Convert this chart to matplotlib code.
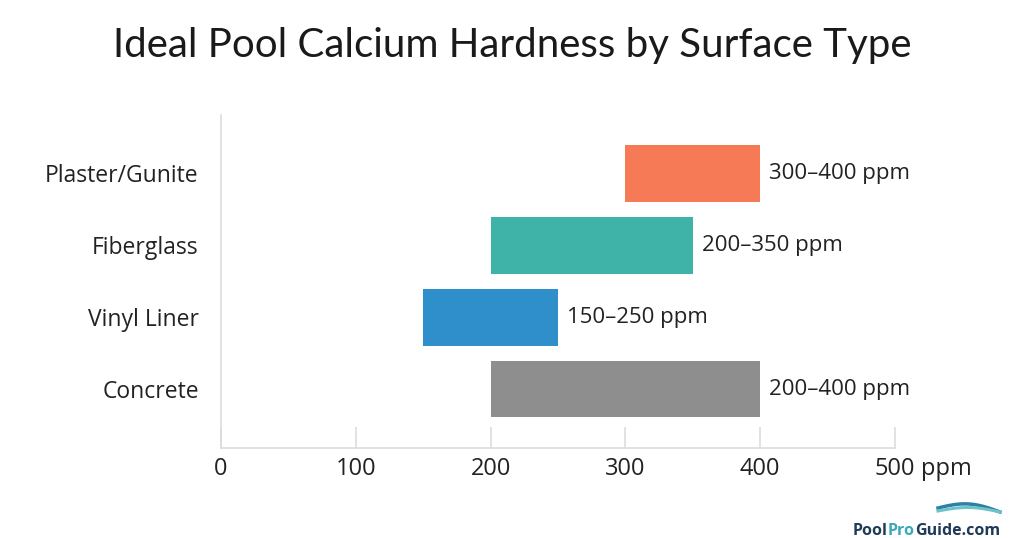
import matplotlib
matplotlib.use("Agg")
import matplotlib.pyplot as plt
import numpy as np

categories = ["Concrete", "Vinyl Liner", "Fiberglass", "Plaster/Gunite"]
low_values = [200, 150, 200, 300]
high_values = [400, 250, 350, 400]
bar_colors = ["#8E8E8E", "#2F8FCB", "#40B3A8", "#F77A57"]
range_labels = ["200\u2013400 ppm", "150\u2013250 ppm", "200\u2013350 ppm", "300\u2013400 ppm"]
tick_values = [0, 100, 200, 300, 400, 500]
tick_labels = ["0", "100", "200", "300", "400", "500"]

W, H = 1024, 538
fig = plt.figure(figsize=(W / 100, H / 100), dpi=100)
fig.patch.set_facecolor("white")

ax_left, ax_right = 221 / W, 895 / W
ax_bottom, ax_top = 1 - 448 / H, 1 - 115 / H
ax = fig.add_axes([ax_left, ax_bottom, ax_right - ax_left, ax_top - ax_bottom])
ax.set_xlim(0, 500)
ax.set_ylim(-0.82, 3.81)

ypos = list(range(len(categories)))
widths = [h - l for l, h in zip(low_values, high_values)]
ax.barh(ypos, widths, left=low_values, height=0.79, color=bar_colors, zorder=3)

for y, h, lab in zip(ypos, high_values, range_labels):
    ax.text(h + 6.5, y, lab, va="center", ha="left", fontsize=16,
            family="Open Sans", color="#222222")

for spine in ["top", "right"]:
    ax.spines[spine].set_visible(False)
for spine in ["left", "bottom"]:
    ax.spines[spine].set_color("#DDDDDD")
    ax.spines[spine].set_linewidth(1.2)

ax.set_yticks(ypos)
ax.set_yticklabels(categories, fontsize=16.5, family="Open Sans", color="#222222")
ax.tick_params(axis="y", length=0, pad=16)

ax.set_xticks(tick_values)
ax.set_xticklabels([])
ax.tick_params(axis="x", direction="in", length=15, color="#DDDDDD", width=1.2)
label_y = -0.82 - 21 / 72
for v, lab in zip(tick_values, tick_labels):
    ax.text(v, label_y, lab, ha="center", va="center",
            fontsize=17, family="Open Sans", color="#222222")
ax.text(500 + 26 * 500 / 674, label_y, "ppm", ha="left", va="center",
        fontsize=17, family="Open Sans", color="#222222")

fig.text(0.5, 1 - 46 / H, "Ideal Pool Calcium Hardness by Surface Type",
         ha="center", va="center", fontsize=29, family="Lato", fontweight="normal",
         color="#1A1A1A")

# watermark logo
base_y = 1 - 535 / H
x0 = 853 / W
t1 = fig.text(x0, base_y, "Pool", fontsize=11.5, fontweight="bold",
              color="#1F3B57", family="Open Sans", va="baseline")
fig.canvas.draw()
r = fig.canvas.get_renderer()
bb = t1.get_window_extent(r)
t2 = fig.text(bb.x1 / W, base_y, "Pro", fontsize=11.5, fontweight="bold",
              color="#3BA7B8", family="Open Sans", va="baseline")
bb2 = t2.get_window_extent(r)
fig.text(bb2.x1 / W, base_y, "Guide.com", fontsize=11.5, fontweight="bold",
         color="#1F3B57", family="Open Sans", va="baseline")
s = np.linspace(0, 1, 50)
wx = 938 + 62 * s
wy1 = 508 - 6 * np.sin(np.pi * s) + 4 * s
wy2 = 511 - 4 * np.sin(np.pi * s) + 1 * s
fig.add_artist(plt.Line2D(wx / W, 1 - wy1 / H, color="#2D7FA8", lw=2.5, transform=fig.transFigure))
fig.add_artist(plt.Line2D(wx / W, 1 - wy2 / H, color="#6CC4C8", lw=2.2, transform=fig.transFigure))

fig.savefig("out.png", dpi=100, facecolor="white")
